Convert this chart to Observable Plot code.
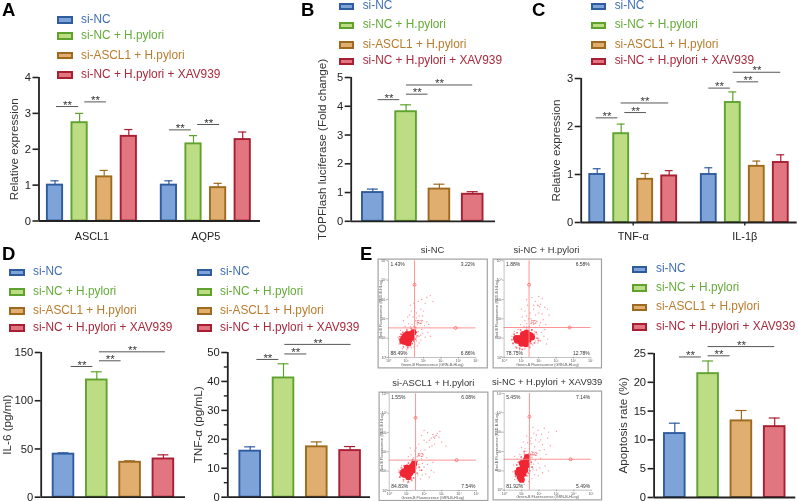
<!DOCTYPE html>
<html><head><meta charset="utf-8">
<script src="https://cdn.jsdelivr.net/npm/d3@7"></script>
<script src="https://cdn.jsdelivr.net/npm/@observablehq/plot@0.6"></script>
<style>
html,body{margin:0;padding:0;background:#fff}
#fig{position:relative;width:798px;height:501px;font-family:"Liberation Sans",Arial,sans-serif;filter:blur(.3px)}
#fig svg{position:absolute;overflow:visible;max-width:none}
.lab{position:absolute;white-space:nowrap;line-height:1}
.sw{position:absolute;box-sizing:border-box;width:15.5px;height:7.5px;border-width:2px;border-style:solid}
</style></head><body><div id="fig"></div>
<script>
const groups = ["si-NC","si-NC + H.pylori","si-ASCL1 + H.pylori","si-NC + H.pylori + XAV939"];
const stroke = ["#2f5c9e","#5fa32e","#9e6a20","#a81f33"];
const fill = ["#7ea3d8","#bddd84","#e0ae6e","#e27680"];
const textCol = ["#3f6db3","#64ab38","#b87c2e","#a82a3c"];

// Panel A
const aGenes = ["ASCL1","AQP5"];
const aMean = [[1.0,2.74,1.23,2.36],[1.0,2.15,0.93,2.27]];
const aTop = [[1.12,3.0,1.41,2.55],[1.12,2.38,1.05,2.48]];
const aSig = [[0.06,0.96,3.19],[1.21,2.09,3.32],[4.65,5.54,2.54],[5.8,6.69,2.69]];
// Panel B
const bMean = [[1.0,3.81,1.12,0.94]];
const bTop = [[1.12,4.05,1.29,1.03]];
const bSig = [[0.16,0.81,4.23],[1.01,1.66,4.42],[1.01,3.0,4.74]];
// Panel C
const cGenes = ["TNF-α","IL-1β"];
const cMean = [[1.0,1.85,0.9,0.97],[1.0,2.5,1.17,1.25]];
const cTop = [[1.12,2.05,1.02,1.08],[1.14,2.72,1.28,1.41]];
const cSig = [[-0.04,0.86,2.18],[1.15,2.05,2.29],[1.0,2.98,2.49],[4.65,5.55,2.8],[5.83,6.73,2.93],[5.67,7.65,3.13]];
// Panel D, IL-6
const d1Mean = [[44.6,121.5,36.2,39.6]];
const d1Top = [[46,130,37.7,43.9]];
const d1Sig = [[0.23,0.88,135.5],[1.08,1.73,141.4],[1.08,3.06,150.7]];
// Panel D, TNF-α
const d2Mean = [[15.9,41.2,17.4,16.1]];
const d2Top = [[17.4,46.1,19.1,17.5]];
const d2Sig = [[0.2,0.86,47.6],[1.04,1.7,49.5],[1.04,3.03,52.8]];
// Panel E, apoptosis
const eMean = [[11.1,21.5,13.3,12.3]];
const eTop = [[12.9,23.7,15.1,13.8]];
const eSig = [[0.14,0.8,24.4],[1.0,1.66,24.6],[1.0,3.0,26.2]];

// Flow panels, values are log10 of fluorescence
const flowTitles = ["si-NC","si-NC + H.pylori","si-ASCL1 + H.pylori","si-NC + H.pylori + XAV939"];
const flowPct = [["1.43%","3.22%","88.49%","6.86%"],["1.88%","6.58%","78.75%","12.78%"],["1.55%","6.08%","84.83%","7.54%"],["5.45%","7.14%","81.92%","5.49%"]];
const flowGate = [[1.49,1.53,3.76,3.84],[1.44,1.55,3.76,3.78],[1.51,1.57,3.76,3.86],[1.45,1.6,3.8,3.82]];
const p1Core = [[1.09,1.03],[.97,.95],[1.2,1.1],[1.03,.82],[1.18,.9],[.86,1.0],[1.07,1.2],[1.3,1.02],[.9,.82],[1.3,1.22],[.95,1.12],[1.42,1.3],[.8,.87],[1.12,.74]];
const p2Core = [[1.2,1.03],[1.05,.95],[1.35,1.1],[.95,.85],[1.2,.82],[.85,1.0],[1.1,1.2],[1.4,.92],[1.5,1.15],[1.3,1.28],[.75,.88],[1.0,.72],[1.6,1.05],[1.25,.7],[.7,1.0]];
const p3Core = [[1.1,1.03],[.98,.93],[1.22,1.1],[1.05,.8],[1.2,.9],[.85,.98],[1.02,1.18],[.88,.82],[1.32,1.25],[1.35,1.05],[1.42,1.38],[.78,.88],[1.1,.7]];
const p4Core = [[1.07,1.17],[1.0,1.0],[1.15,1.3],[.95,.8],[1.1,.85],[.85,1.05],[1.2,1.05],[1.02,1.4],[.9,.68],[1.25,1.55],[1.3,1.3],[1.0,.55],[.78,.9],[1.32,1.7]];
const p1Halo = [[.62,.95],[.68,.72],[.72,1.2],[.85,.55],[1.1,.5],[1.35,.72],[1.55,.95],[1.6,1.3],[1.55,1.55],[1.3,1.5],[1.05,1.42],[.82,1.3],[1.45,.85],[.65,1.08],[1.25,.62],[1.65,1.12]];
const p2Halo = [[.45,.92],[.52,.72],[.58,1.2],[.72,.5],[1.05,.42],[1.45,.55],[1.75,.75],[1.9,1.0],[1.85,1.3],[1.6,1.42],[1.3,1.55],[.95,1.42],[.75,1.28],[1.72,1.2],[.9,.48],[1.55,.72],[1.98,.88]];
const p3Halo = [[.58,.95],[.62,.7],[.7,1.18],[.82,.55],[1.1,.45],[1.4,.65],[1.6,.9],[1.72,1.2],[1.6,1.5],[1.35,1.6],[1.1,1.42],[.85,1.28],[1.5,1.2],[.66,1.02],[1.28,.55],[1.85,1.05]];
const p4Halo = [[.62,1.0],[.66,.72],[.72,1.3],[.82,.5],[1.1,.42],[1.3,.75],[1.48,1.0],[1.55,1.45],[1.52,1.85],[1.2,1.82],[.98,1.72],[.82,1.45],[1.38,.88],[1.15,2.0],[.92,.42],[1.6,1.2]];
const p1Sparse = [[1.7,1.8],[1.8,1.75],[1.65,1.7],[1.55,1.9],[1.4,2.1],[1.3,2.4],[1.25,2.7],[1.5,2.6],[1.7,2.9],[1.9,3.0],[2.2,3.1],[2.4,3.2],[2.1,2.8],[1.85,2.5],[1.6,2.3],[1.45,2.8],[2.0,2.4],[1.75,2.15],[1.95,1.9],[2.2,1.85],[2.3,1.7],[2.05,1.65],[1.9,1.45],[1.7,1.35],[1.55,1.2],[1.75,1.1],[1.95,1.25],[2.1,1.05],[1.85,.9],[1.6,.85],[1.5,.7],[1.75,.75],[2.25,1.3],[2.4,1.1],[1.4,1.45],[1.35,1.7],[.55,1.05],[.6,.7],[.7,1.4],[.8,.45],[1.05,.4],[1.3,.5],[.95,1.6],[1.15,1.75],[1.1,2.1],[.85,1.9],[1.55,1.45],[1.6,1.05],[1.5,.95],[1.65,.6],[1.45,1.6],[1.25,1.6],[1.6,2.05],[2.55,2.9],[1.2,2.2],[1.95,2.15],[1.45,.55],[1.85,1.15]];
const p2Sparse = [[1.98,2.67],[2.05,2.62],[1.92,2.7],[2.1,2.75],[1.8,2.9],[2.2,3.05],[2.0,3.15],[2.35,2.6],[2.5,2.5],[1.7,2.5],[1.5,2.3],[1.35,2.7],[1.2,2.4],[1.05,2.1],[1.3,3.0],[1.6,3.1],[1.55,2.0],[1.8,2.2],[1.75,1.9],[1.9,1.85],[2.1,1.8],[2.25,1.95],[2.4,1.7],[2.05,1.65],[1.7,1.7],[1.3,1.75],[1.2,1.9],[.95,1.7],[1.45,1.6],[1.6,1.45],[1.75,1.35],[1.9,1.2],[2.0,1.0],[2.15,1.3],[2.3,1.1],[2.5,.95],[1.8,.85],[1.95,.75],[1.65,.65],[1.5,.5],[1.75,1.05],[2.1,.85],[.45,1.1],[.5,.75],[.6,1.35],[.65,.55],[.9,.4],[1.2,.45],[.8,1.45],[2.6,2.2],[1.4,2.0],[1.85,1.55],[2.35,1.45],[1.55,1.75],[1.7,2.7],[2.0,2.3],[1.15,1.6],[1.3,2.15],[1.0,2.5],[2.2,2.25],[2.45,.7],[1.65,1.2]];
const p3Sparse = [[2.63,2.81],[2.7,2.85],[2.55,2.75],[2.75,2.95],[2.6,2.7],[2.5,2.9],[2.85,2.75],[2.4,2.7],[2.3,2.6],[2.15,2.5],[2.0,2.6],[1.85,2.85],[2.2,3.0],[2.0,3.1],[1.7,2.4],[1.55,2.2],[1.45,2.05],[1.8,2.05],[2.05,2.1],[2.3,2.25],[2.6,2.4],[3.0,2.5],[3.25,2.3],[1.7,1.85],[1.6,1.75],[1.4,1.7],[1.25,1.85],[1.85,1.65],[1.9,1.4],[1.7,1.35],[1.55,1.15],[1.75,1.05],[2.0,1.2],[2.2,1.35],[2.4,1.05],[2.55,.95],[2.1,.85],[1.9,.8],[1.65,.8],[1.5,.55],[1.8,.6],[2.3,.7],[.55,1.05],[.6,.7],[.7,1.3],[.8,.45],[1.05,.4],[1.3,.5],[2.15,1.7],[2.5,1.45],[1.5,1.45],[1.3,1.55],[1.1,1.75],[1.2,2.2],[2.45,2.3],[2.9,3.05],[1.95,1.85]];
const p4Sparse = [[1.9,1.9],[1.75,1.85],[1.6,2.0],[1.45,2.15],[1.35,2.45],[1.55,2.4],[1.8,2.6],[2.0,2.5],[2.15,2.9],[1.7,2.95],[1.95,3.1],[2.3,3.2],[2.5,2.7],[2.2,2.35],[2.05,2.05],[1.55,2.7],[1.3,2.8],[1.1,2.5],[1.0,2.2],[1.2,2.15],[.9,1.85],[.75,1.6],[1.15,1.9],[1.4,1.9],[1.6,1.7],[1.8,1.55],[1.95,1.4],[1.7,1.35],[2.1,1.65],[2.4,1.85],[2.65,2.3],[3.0,3.05],[1.55,1.35],[1.65,1.1],[1.85,1.05],[2.05,1.15],[2.2,.9],[1.75,.8],[1.6,.6],[1.45,.75],[1.4,.45],[1.15,.3],[.85,.3],[.6,.55],[.5,.95],[.55,1.3],[.6,1.75],[2.35,1.25],[2.55,1.0],[1.95,.75],[1.5,1.55],[1.5,2.55],[2.1,2.6],[1.75,2.25],[2.3,2.1],[1.25,2.0],[1.85,2.85],[2.55,3.0],[1.65,3.25],[1.45,1.2]];
const flowCore = [p1Core,p2Core,p3Core,p4Core];
const flowHalo = [p1Halo,p2Halo,p3Halo,p4Halo];
const flowSparse = [p1Sparse,p2Sparse,p3Sparse,p4Sparse];

const fig = document.getElementById("fig");
const FONT = '"Liberation Sans",Arial,sans-serif';

function place(text,x,baseY,size,opts={}){
  const d=document.createElement("div");
  d.className="lab"; d.textContent=text;
  d.style.left=x+"px"; d.style.top=(baseY-size*0.8465)+"px"; d.style.fontSize=size+"px";
  d.style.color=opts.color||"#222"; if(opts.bold) d.style.fontWeight="bold";
  if(opts.center) d.style.transform="translateX(-50%)";
  fig.appendChild(d);
}
function legend(swX,txtX,rows){
  groups.forEach((g,i)=>{
    const s=document.createElement("div"); s.className="sw";
    s.style.left=swX+"px"; s.style.top=(rows[i]-3.7)+"px";
    s.style.background=fill[i]; s.style.borderColor=stroke[i];
    fig.appendChild(s);
    place(g,txtX,rows[i]+4.2,11.85,{color:textCol[i]});
  });
}
function barChart(cfg){
  const {axisX,right,yTop,y0,yMax,first,step,gap=0,means,tops,sig,ticks,minor,label,labelX,names,nameTick=0,namePad=11}=cfg;
  const rows=[];
  means.forEach((m,g)=>m.forEach((v,i)=>{
    const slot=i+g*(4+gap);
    rows.push({slot,v,top:tops[g][i],s:stroke[i],f:fill[i]});
  }));
  const left=Math.max(0,labelX-10);
  const mT=22, mB=names?24:4;
  const xMin=(axisX-first)/step, xMax=(right-first)/step;
  const marks=[
    Plot.ruleX(rows,{x:"slot",y1:"v",y2:"top",stroke:"s",strokeWidth:1.2}),
    Plot.ruleY(rows,{y:"top",x1:d=>d.slot-0.165,x2:d=>d.slot+0.165,stroke:"s",strokeWidth:1.2}),
    Plot.rectY(rows,{x1:d=>d.slot-0.31,x2:d=>d.slot+0.31,y1:0,y2:"v",fill:"f",stroke:"s",strokeWidth:1.9}),
    Plot.ruleY(sig,{y:d=>d[2],x1:d=>d[0],x2:d=>d[1],stroke:"#555",strokeWidth:1}),
    Plot.text(sig,{x:d=>(d[0]+d[1])/2,y:d=>d[2],text:()=>"**",fontSize:11.5,fill:"#333",dy:-1.5,lineAnchor:"middle"}),
    Plot.ruleY([0],{stroke:"#222",strokeWidth:1.8}),
    Plot.ruleX([xMin],{y1:0,y2:yMax,stroke:"#222",strokeWidth:1.8}),
    Plot.axisY({ticks,tickFormat:d=>String(d),tickSize:6,tickPadding:2,strokeWidth:1.6,stroke:"#222",fill:"#222",fontSize:11.2,label:null,marginLeft:axisX-left}),
    Plot.text([label],{frameAnchor:"left",textAnchor:"middle",dx:labelX-axisX,rotate:-90,fontSize:11.7,fill:"#333"})
  ];
  if(minor) marks.push(Plot.axisY({ticks:minor,tickSize:3.5,strokeWidth:1.4,stroke:"#222",tickFormat:()=>"",label:null}));
  if(names) marks.push(Plot.axisX({ticks:names.map((n,i)=>1.5+i*(4+gap)),tickFormat:(d,i)=>names[i],tickSize:nameTick,tickPadding:namePad,stroke:"#222",strokeWidth:1.4,fontSize:10.9,label:null,fill:"#222"}));
  const svg=Plot.plot({
    width:right+2-left,height:y0-yTop+mT+mB,
    marginLeft:axisX-left,marginRight:2,marginTop:mT,marginBottom:mB,
    style:{fontFamily:FONT,fontSize:"11.2px",background:"transparent"},
    x:{type:"linear",domain:[xMin,xMax],axis:null},
    y:{domain:[0,yMax],axis:null},
    color:{type:"identity"},
    marks
  });
  svg.style.left=left+"px"; svg.style.top=(yTop-mT)+"px";
  fig.appendChild(svg);
}

function flow(k,frame,area){
  const [fl,ft,fr,fb]=frame, [al,at,ar,ab]=area;
  const g=flowGate[k], pct=flowPct[k];
  const sup=["⁰","¹","²","³","⁴","⁵"];
  const tf=d=>"10"+sup[d];
  const axisOpts={ticks:[0,1,2,3,4,5],tickFormat:tf,tickSize:1.5,tickPadding:0.5,stroke:"#777",fill:"#555",fontSize:3.6,strokeWidth:.6,label:null};
  const toP=a=>a.map(([x,y])=>({x,y}));
  const svg=Plot.plot({
    width:fr-fl,height:fb-ft,
    marginLeft:al-fl,marginRight:fr-ar,marginTop:at-ft,marginBottom:fb-ab,
    style:{fontFamily:FONT,background:"transparent",fontSize:"5px"},
    x:{domain:[0,5],axis:null},y:{domain:[0,5],axis:null},
    marks:[
      Plot.frame({insetLeft:fl-al+.6,insetTop:ft-at+.6,insetRight:ar-fr+.6,insetBottom:ab-fb+.6,stroke:"#a2a2a2",strokeWidth:1.2,fill:"#fff"}),
      Plot.dot(toP(flowSparse[k]),{x:"x",y:"y",r:.7,fill:"#f6707a",fillOpacity:.7,stroke:"none"}),
      Plot.dot(toP(flowHalo[k]),{x:"x",y:"y",r:.95,fill:"#f0404c",fillOpacity:.75,stroke:"none"}),
      Plot.dot(toP(flowCore[k]),{x:"x",y:"y",r:3.2,fill:"#f02634",stroke:"none"}),
      Plot.ruleX([g[0]],{stroke:"#f88",strokeWidth:.9}),
      Plot.ruleY([g[1]],{stroke:"#f88",strokeWidth:.9}),
      Plot.dot([[g[0],g[2]],[g[3],g[1]]],{x:d=>d[0],y:d=>d[1],r:1.5,fill:"none",stroke:"#f66",strokeWidth:.8}),
      Plot.text(["R2"],{x:()=>g[0]+.28,y:()=>g[1]+.26,fontSize:4.5,fill:"#e66"}),
      Plot.ruleX([0],{stroke:"#999",strokeWidth:.6}),
      Plot.ruleY([0],{stroke:"#999",strokeWidth:.6}),
      Plot.axisX({...axisOpts}),
      Plot.axisY({...axisOpts}),
      Plot.text([pct[0]],{frameAnchor:"top-left",dx:2,dy:2,fontSize:5,fill:"#333"}),
      Plot.text([pct[1]],{frameAnchor:"top-right",dx:-1,dy:2,fontSize:5,fill:"#333"}),
      Plot.text([pct[2]],{frameAnchor:"bottom-left",dx:2,dy:-2,fontSize:5,fill:"#333"}),
      Plot.text([pct[3]],{frameAnchor:"bottom-right",dx:-1,dy:-2,fontSize:5,fill:"#333"}),
      Plot.text(["Green-B Fluorescence (GRN-B-HLog)"],{frameAnchor:"bottom",dy:8.2,fontSize:3.7,fill:"#555"}),
      Plot.text(["Red-B Fluorescence (RED-B-HLog)"],{frameAnchor:"left",textAnchor:"middle",dx:-7.5,rotate:-90,fontSize:3.7,fill:"#555"})
    ]
  });
  svg.style.left=fl+"px"; svg.style.top=ft+"px";
  fig.appendChild(svg);
  place(flowTitles[k],(fl+fr)/2,ft-5,9.4,{center:true,color:"#333"});
}

// Letters
[["A",2,17],["B",301,17],["C",532,17],["D",2,260.5],["E",360,260.5]].forEach(([t,x,y])=>place(t,x,y,18.5,{bold:true,color:"#000"}));
// Legends
legend(57,81,[20,36,55.5,74.7]);
legend(338.5,362.7,[6.3,25.3,44.7,61.3]);
legend(590.7,614.7,[6.3,25.3,44.7,61.3]);
legend(9,33,[272.3,291.7,311,327.7]);
legend(196.7,220,[272.3,291.7,311,327.7]);
legend(631.7,656,[269.3,288,307.3,326.7]);

barChart({axisX:38.5,right:260,yTop:77,y0:220.5,yMax:4,first:54.5,step:24.6,gap:.63,means:aMean,tops:aTop,sig:aSig,ticks:[0,1,2,3,4],label:"Relative expression",labelX:14,names:aGenes});
barChart({axisX:350.7,right:495,yTop:76.7,y0:220.5,yMax:5,first:372.3,step:33.3,means:bMean,tops:bTop,sig:bSig,ticks:[0,1,2,3,4,5],label:"TOPFlash luciferase (Fold change)",labelX:322});
barChart({axisX:580.7,right:796.7,yTop:77.7,y0:221.7,yMax:3,first:596.7,step:24,gap:.65,means:cMean,tops:cTop,sig:cSig,ticks:[0,1,2,3],label:"Relative expression",labelX:556,names:cGenes,nameTick:3.5,namePad:6});
barChart({axisX:40.7,right:185,yTop:352,y0:496.7,yMax:150,first:63,step:33.3,means:d1Mean,tops:d1Top,sig:d1Sig,ticks:[0,50,100,150],label:"IL-6 (pg/ml)",labelX:7});
barChart({axisX:227.3,right:370,yTop:352,y0:496.7,yMax:50,first:249.7,step:33.3,means:d2Mean,tops:d2Top,sig:d2Sig,ticks:[0,10,20,30,40,50],minor:[5,15,25,35,45],label:"TNF-α (pg/mL)",labelX:198});
barChart({axisX:653.3,right:795,yTop:352.7,y0:496.7,yMax:25,first:674,step:33.3,means:eMean,tops:eTop,sig:eSig,ticks:[0,5,10,15,20,25],label:"Apoptosis rate (%)",labelX:622.7});

flow(0,[377.3,257.7,487.7,367.7],[388.3,260,475.7,356.7]);
flow(1,[491.7,257.7,601.3,367.7],[503.3,260,590,356.7]);
flow(2,[378.3,390.7,488.3,500.3],[389,393,476.3,489.7]);
flow(3,[492.3,390,602,500],[504,393,591,489.7]);
</script></body></html>
